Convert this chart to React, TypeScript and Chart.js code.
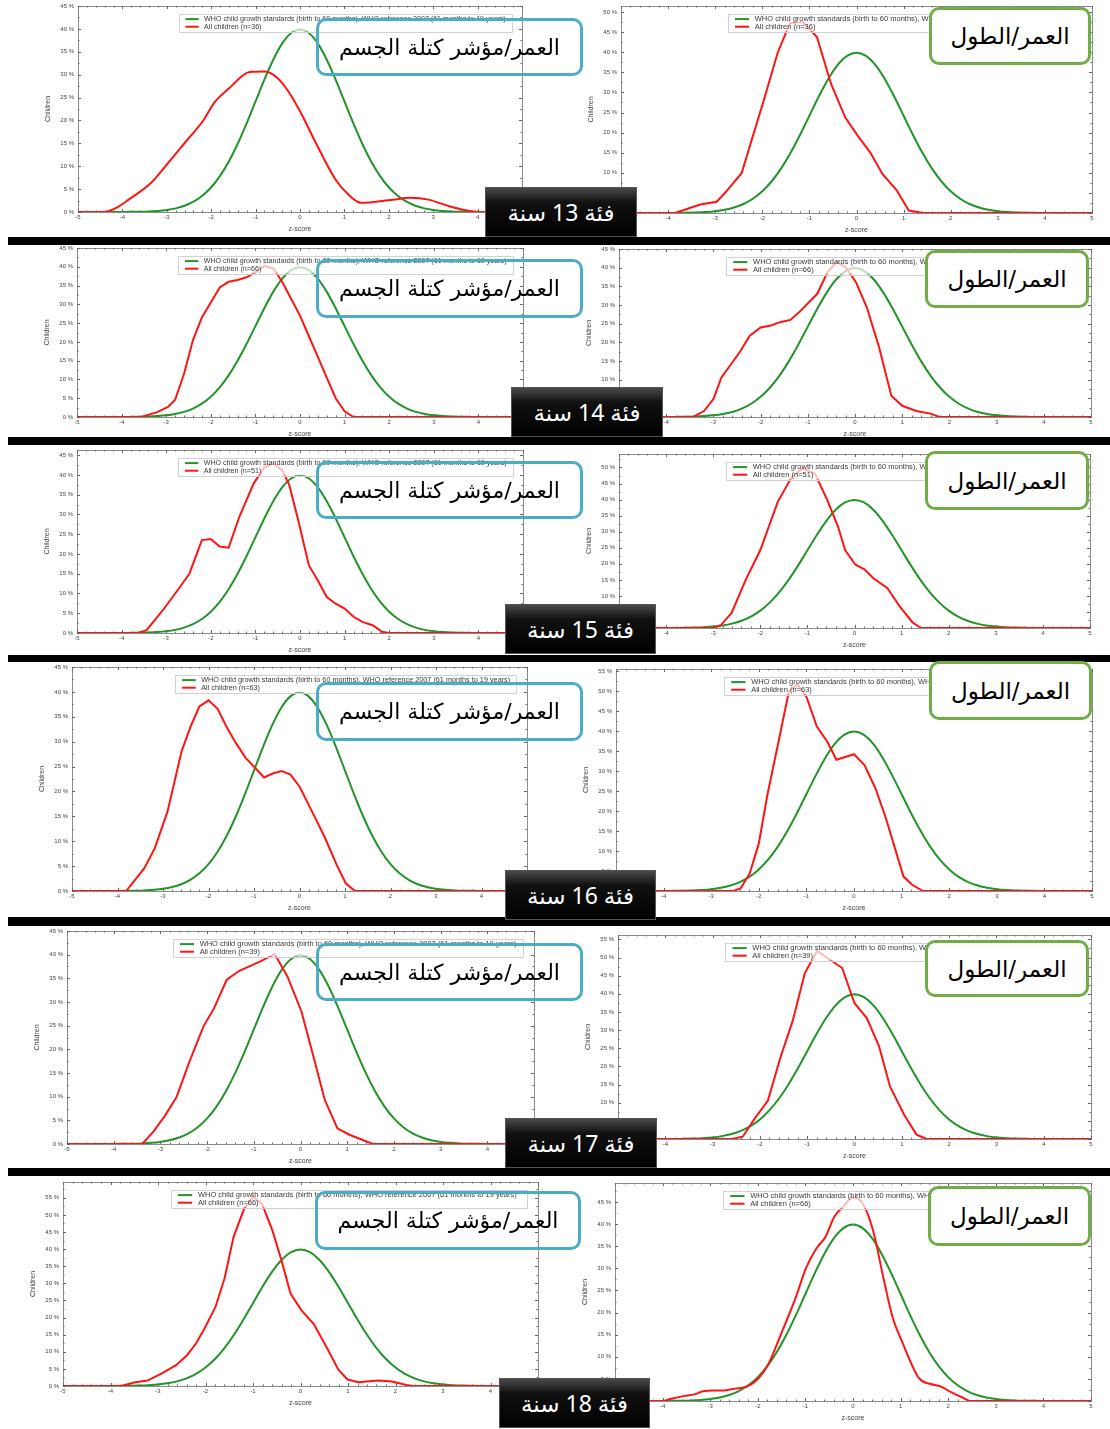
import React, { useEffect, useRef } from "react";
import { Chart, registerables } from "chart.js";

Chart.register(...registerables);

// ---------------- DATA ----------------
const Z_GRID = [
  -5, -4.8, -4.6, -4.4, -4.2, -4, -3.8, -3.6, -3.4, -3.2, -3, -2.8, -2.6, -2.4, -2.2, -2, -1.8, -1.6, -1.4, -1.2, -1,
  -0.8, -0.6, -0.4, -0.2, 0, 0.2, 0.4, 0.6, 0.8, 1, 1.2, 1.4, 1.6, 1.8, 2, 2.2, 2.4, 2.6, 2.8, 3, 3.2, 3.4, 3.6, 3.8,
  4, 4.2, 4.4, 4.6, 4.8, 5,
];
const WHO_CURVE = [
  0, 0, 0, 0, 0, 0.01, 0.03, 0.06, 0.12, 0.24, 0.44, 0.79, 1.36, 2.24, 3.55, 5.4, 7.9, 11.09, 14.97, 19.42, 24.2,
  28.97, 33.32, 36.83, 39.1, 39.89, 39.1, 36.83, 33.32, 28.97, 24.2, 19.42, 14.97, 11.09, 7.9, 5.4, 3.55, 2.24, 1.36,
  0.79, 0.44, 0.24, 0.12, 0.06, 0.03, 0.01, 0, 0, 0, 0, 0,
];

const BMI_13: [number, number][] = [
  [-5, 0], [-4.42, 0], [-4.14, 0.9], [-3.86, 2.7], [-3.34, 6.5], [-2.97, 10.7], [-2.57, 15.4], [-2.17, 20.1],
  [-1.93, 23.9], [-1.61, 26.9], [-1.13, 30.6], [-0.8, 30.7], [-0.52, 29.4], [-0.28, 26.6], [0, 22], [0.32, 15.8],
  [0.8, 7.1], [1.09, 3.8], [1.37, 2.0], [2.09, 2.7], [2.49, 3.1], [2.89, 2.7], [3.38, 1.2], [3.86, 0.15], [4.02, 0], [5, 0],
];
const HFA_13: [number, number][] = [
  [-5, 0], [-3.85, 0], [-3.32, 2.1], [-2.97, 2.8], [-2.8, 4.9], [-2.44, 9.9], [-2.23, 18], [-1.97, 28], [-1.67, 40],
  [-1.41, 47.3], [-1.14, 47.5], [-0.84, 43.8], [-0.54, 32.1], [-0.24, 23.8], [0.02, 19.3], [0.29, 15.1], [0.55, 9.7],
  [0.85, 5.7], [1.11, 0.6], [1.41, 0], [5, 0],
];
const BMI_14: [number, number][] = [
  [-5, 0], [-3.56, 0], [-3.2, 1.3], [-2.96, 2.7], [-2.8, 4.6], [-2.6, 11.5], [-2.4, 20.5], [-2.2, 26.5], [-2.0, 30.5],
  [-1.8, 34.5], [-1.6, 36], [-1.4, 36.5], [-1.2, 37.2], [-1.0, 38.5], [-0.8, 40.2], [-0.6, 39.6], [-0.4, 36],
  [-0.2, 31.5], [0, 27], [0.2, 21.5], [0.4, 16], [0.6, 10.5], [0.8, 5], [1.0, 1.5], [1.2, 0], [5, 0],
];
const HFA_14: [number, number][] = [
  [-5, 0], [-3.43, 0], [-3.2, 1.6], [-3.0, 4.8], [-2.83, 10.6], [-2.6, 14.6], [-2.42, 17.8], [-2.23, 21.8],
  [-2.0, 24.0], [-1.78, 24.5], [-1.59, 25.4], [-1.37, 26.0], [-1.18, 28.1], [-0.8, 33.0], [-0.58, 38.8],
  [-0.39, 41.5], [-0.2, 40.2], [0.02, 36.1], [0.25, 29.4], [0.51, 18.7], [0.77, 5.7], [1.0, 3.0], [1.3, 1.6],
  [1.6, 0.9], [1.79, 0], [5, 0],
];
const BMI_15: [number, number][] = [
  [-5, 0], [-3.64, 0], [-3.44, 0.7], [-3.08, 5.7], [-2.72, 11.2], [-2.48, 15.0], [-2.2, 23.5], [-2.0, 23.8],
  [-1.8, 21.9], [-1.6, 21.6], [-1.36, 29.4], [-1.04, 37.8], [-0.8, 41.9], [-0.6, 42.9], [-0.4, 41.2], [-0.24, 37.4],
  [-0.04, 28.5], [0.2, 17.1], [0.4, 13.3], [0.6, 9.1], [0.8, 7.4], [1.0, 6.2], [1.2, 4.1], [1.4, 2.8], [1.64, 1.9],
  [1.84, 0.3], [2.0, 0], [5, 0],
];
const HFA_15: [number, number][] = [
  [-5, 0], [-2.98, 0], [-2.83, 1.0], [-2.61, 4.7], [-2.31, 15.0], [-2.0, 24.3], [-1.63, 39.3], [-1.33, 47.1],
  [-1.11, 49.7], [-0.84, 48.1], [-0.58, 39.9], [-0.35, 31.6], [-0.2, 24.3], [0.02, 19.7], [0.21, 18.3], [0.4, 15.5],
  [0.7, 12.4], [0.96, 6.7], [1.23, 1.8], [1.41, 0], [5, 0],
];
const BMI_16: [number, number][] = [
  [-5, 0], [-3.81, 0], [-3.41, 4.6], [-3.18, 8.6], [-2.9, 16.0], [-2.59, 28.1], [-2.39, 33.1], [-2.2, 37.1],
  [-2.0, 38.3], [-1.8, 36.6], [-1.61, 33.1], [-1.41, 29.9], [-1.18, 26.7], [-0.98, 24.8], [-0.78, 22.8],
  [-0.59, 23.6], [-0.39, 24.1], [-0.2, 23.4], [0, 21.0], [0.24, 16.6], [0.55, 10.9], [0.82, 5.2], [1.02, 1.5],
  [1.22, 0], [5, 0],
];
const HFA_16: [number, number][] = [
  [-5, 0], [-2.53, 0], [-2.38, 0.7], [-2.19, 4.4], [-2.0, 11.9], [-1.82, 24.0], [-1.6, 36.5], [-1.37, 49.8],
  [-1.19, 51.7], [-1.0, 48.6], [-0.78, 41.1], [-0.56, 37.3], [-0.37, 32.8], [0, 34.2], [0.22, 31.5], [0.45, 25.7],
  [0.67, 18.2], [0.85, 11.1], [1.04, 3.6], [1.23, 1.5], [1.45, 0], [5, 0],
];
const BMI_17: [number, number][] = [
  [-5, 0], [-3.39, 0], [-3.15, 2.6], [-2.9, 6.0], [-2.65, 10.0], [-2.39, 17.1], [-2.08, 24.8], [-1.85, 28.7],
  [-1.58, 34.7], [-1.31, 36.6], [-0.86, 38.6], [-0.55, 40.1], [-0.28, 35.4], [0.02, 28.0], [0.25, 19.5],
  [0.52, 9.3], [0.79, 3.3], [1.06, 1.9], [1.55, 0], [5, 0],
];
const HFA_17: [number, number][] = [
  [-5, 0], [-2.58, 0], [-2.36, 0.7], [-2.1, 5.8], [-1.83, 10.6], [-1.57, 22.3], [-1.31, 32.4], [-1.05, 45.7],
  [-0.79, 51.8], [-0.26, 47.1], [0, 37.4], [0.26, 33.3], [0.52, 25.5], [0.75, 14.5], [1.05, 6.7], [1.31, 1.2],
  [1.53, 0], [5, 0],
];
const BMI_18: [number, number][] = [
  [-5, 0], [-3.78, 0], [-3.48, 1.1], [-3.22, 1.6], [-2.92, 3.7], [-2.62, 6.1], [-2.39, 9.0], [-2.2, 12.4],
  [-2.02, 16.8], [-1.79, 23.1], [-1.6, 31.4], [-1.41, 43.5], [-1.19, 51.7], [-1.0, 55.3], [-0.81, 53.2],
  [-0.59, 45.4], [-0.4, 36.7], [-0.21, 27.0], [0.02, 22.1], [0.28, 18.1], [0.58, 10.5], [0.8, 4.7], [0.99, 1.9],
  [1.22, 1.1], [1.63, 1.6], [1.93, 1.3], [2.23, 0.3], [2.38, 0], [5, 0],
];
const HFA_18: [number, number][] = [
  [-5, 0], [-4.0, 0], [-3.82, 0.5], [-3.56, 1.1], [-3.33, 1.5], [-3.15, 2.2], [-2.96, 2.4], [-2.7, 2.4],
  [-2.48, 2.8], [-2.22, 3.3], [-1.99, 5.1], [-1.77, 8.5], [-1.51, 15.2], [-1.21, 23.2], [-0.99, 30.0],
  [-0.77, 34.5], [-0.58, 37.1], [-0.39, 41.7], [-0.21, 43.9], [0, 46.0], [0.2, 44.7], [0.42, 38.6], [0.65, 27.3],
  [0.83, 19.0], [1.02, 13.7], [1.39, 5.1], [1.61, 3.9], [1.84, 3.3], [2.06, 2.0], [2.28, 0.9], [2.47, 0], [5, 0],
];

const AGES = [13, 14, 15, 16, 17, 18];
const N_CHILDREN = [36, 66, 51, 63, 39, 66];
const BMI_SERIES = [BMI_13, BMI_14, BMI_15, BMI_16, BMI_17, BMI_18];
const HFA_SERIES = [HFA_13, HFA_14, HFA_15, HFA_16, HFA_17, HFA_18];
const Y_MAX_BMI = [45, 45, 46.3, 45, 45, 59.6];
const Y_MAX_HFA = [51.5, 45, 54.2, 55.5, 56.2, 49.3];
const X_MIN = -5;
const X_MAX = 5;

const LEGEND_WHO = "WHO child growth standards (birth to 60 months), WHO reference 2007 (61 months to 19 years)";
const LEGEND_ALL = "All children";
const X_TITLE = "z-score";
const Y_TITLE = "Children";
const PANEL_BMI = "العمر/مؤشر كتلة الجسم";
const PANEL_HFA = "العمر/الطول";
const WORD_GROUP = "فئة";
const WORD_YEAR = "سنة";

// ---------------- LAYOUT / STYLE ----------------
const GREEN = "#23932a";
const RED = "#ff1414";
const FONT = "'Liberation Sans', Arial, sans-serif";

// plot boxes [left, top, right, bottom(0%)]
const PLOTS_BMI = [
  [78, 6, 522, 212],
  [77, 248, 523, 417],
  [77, 450, 523, 633],
  [72, 667, 527, 891],
  [67, 931, 534, 1144],
  [63, 1182, 538, 1386],
];
const PLOTS_HFA = [
  [621, 6, 1092, 213],
  [619, 249, 1091, 417],
  [619, 454, 1090, 628],
  [616, 669, 1092, 891],
  [618, 935, 1091, 1139],
  [615, 1183, 1091, 1401],
];
const BLUE_BOXES = [
  [316, 18, 267, 58],
  [316, 259, 267, 59],
  [316, 461, 267, 58],
  [316, 682, 267, 59],
  [316, 943, 267, 58],
  [315, 1191, 266, 59],
];
const GREEN_BOXES = [
  [929, 7, 162, 58],
  [925, 250, 164, 58],
  [925, 451, 164, 59],
  [929, 661, 163, 59],
  [925, 940, 164, 57],
  [928, 1186, 163, 60],
];
const AGE_BOXES = [
  [485, 187, 152, 50],
  [511, 387, 152, 50],
  [505, 604, 151, 50],
  [505, 870, 151, 50],
  [505, 1118, 152, 50],
  [499, 1378, 151, 50],
];
const SEPARATORS = [
  [237, 245],
  [437, 445],
  [655, 662],
  [917, 926],
  [1168, 1176],
];

const PAD_L = 40;
const PAD_T = 8;
const PAD_R = 8;
const PAD_B = 26;

const framePlugin = {
  id: "zFrame",
  beforeDatasetsDraw(chart: any) {
    const { ctx, chartArea: a, scales } = chart;
    const xs = scales.x;
    const ys = scales.y;
    ctx.save();
    ctx.strokeStyle = "#8c8c8c";
    ctx.lineWidth = 1;
    ctx.strokeRect(Math.round(a.left) + 0.5, Math.round(a.top) + 0.5, Math.round(a.right - a.left), Math.round(a.bottom - a.top));
    ctx.strokeStyle = "#666";
    ctx.beginPath();
    for (let k = X_MIN * 10; k <= X_MAX * 10; k += 2) {
      const px = Math.round(xs.getPixelForValue(k / 10)) + 0.5;
      const len = k % 10 === 0 ? 3 : 1.5;
      ctx.moveTo(px, a.bottom);
      ctx.lineTo(px, a.bottom - len);
      ctx.moveTo(px, a.top);
      ctx.lineTo(px, a.top + len);
    }
    for (let k = 0; k <= ys.max * 2; k += 5) {
      const py = Math.round(ys.getPixelForValue(k / 2)) + 0.5;
      const len = k % 10 === 0 ? 3 : 1.5;
      ctx.moveTo(a.left, py);
      ctx.lineTo(a.left + len, py);
      ctx.moveTo(a.right, py);
      ctx.lineTo(a.right - len, py);
    }
    ctx.stroke();
    ctx.restore();
  },
};

const legendPlugin = {
  id: "zLegend",
  afterDatasetsDraw(chart: any) {
    const { ctx, chartArea: a } = chart;
    const W = a.right - a.left;
    const lx = a.left + 0.227 * W;
    const ly = a.top + 7.5;
    const lw = 0.75 * W;
    const lh = 18;
    ctx.save();
    ctx.fillStyle = "rgba(255,255,255,0.7)";
    ctx.fillRect(lx, ly, lw, lh);
    ctx.strokeStyle = "#d2d2d2";
    ctx.lineWidth = 1;
    ctx.strokeRect(Math.round(lx) + 0.5, Math.round(ly) + 0.5, Math.round(lw), Math.round(lh));
    const ds = chart.data.datasets;
    ctx.font = `10px ${FONT}`;
    const m = ctx.measureText(ds[0].label).width;
    const fs = Math.min((10 * 0.68 * W) / m, 7.5);
    ctx.font = `${fs}px ${FONT}`;
    ctx.textBaseline = "middle";
    ds.forEach((d: any, i: number) => {
      const cy = ly + 5.6 + i * 7.6;
      ctx.strokeStyle = d.borderColor;
      ctx.lineWidth = 2;
      ctx.beginPath();
      ctx.moveTo(lx + 0.015 * W, cy);
      ctx.lineTo(lx + 0.045 * W, cy);
      ctx.stroke();
      ctx.fillStyle = "#3a3a3a";
      ctx.fillText(d.label, lx + 0.057 * W, cy);
    });
    ctx.restore();
  },
};

type ZProps = { plot: number[]; red: [number, number][]; yMax: number; n: number; smooth: boolean };

function ZChart({ plot, red, yMax, n, smooth }: ZProps) {
  const ref = useRef<HTMLCanvasElement>(null);
  const [L, T, R, B] = plot;
  const w = R - L + PAD_L + PAD_R;
  const h = B - T + PAD_T + PAD_B;

  useEffect(() => {
    if (!ref.current) return;
    const tickFont = { size: 6, family: FONT };
    const chart = new Chart(ref.current, {
      type: "line",
      data: {
        datasets: [
          {
            label: LEGEND_WHO,
            data: Z_GRID.map((x, i) => ({ x, y: WHO_CURVE[i] })),
            borderColor: GREEN,
            borderWidth: 2,
            pointRadius: 0,
            cubicInterpolationMode: "monotone",
            order: 1,
          },
          {
            label: `${LEGEND_ALL} (n=${n})`,
            data: red.map(([x, y]) => ({ x, y })),
            borderColor: RED,
            borderWidth: 2,
            pointRadius: 0,
            cubicInterpolationMode: smooth ? "monotone" : "default",
            tension: 0,
            order: 0,
          },
        ],
      },
      options: {
        responsive: false,
        animation: false,
        events: [],
        layout: { padding: { left: 4, top: PAD_T, right: PAD_R, bottom: 0 } },
        plugins: { legend: { display: false }, tooltip: { enabled: false } },
        scales: {
          x: {
            type: "linear",
            min: X_MIN,
            max: X_MAX,
            ticks: { stepSize: 1, font: tickFont, color: "#444", padding: 2, maxRotation: 0, autoSkip: false },
            grid: { display: false, drawTicks: false },
            border: { display: false },
            title: { display: true, text: X_TITLE, font: { size: 7, family: FONT }, color: "#444", padding: { top: 0, bottom: 5 } },
            afterFit: (s: any) => {
              s.height = PAD_B;
            },
          },
          y: {
            type: "linear",
            min: 0,
            max: yMax,
            ticks: {
              stepSize: 5,
              includeBounds: false,
              font: tickFont,
              color: "#444",
              padding: 4,
              callback: (v: any) => `${v} %`,
            },
            grid: { display: false, drawTicks: false },
            border: { display: false },
            title: { display: true, text: Y_TITLE, font: { size: 7, family: FONT }, color: "#444", padding: { top: 2, bottom: 2 } },
            afterFit: (s: any) => {
              s.width = PAD_L - 4;
            },
          },
        },
      } as any,
      plugins: [framePlugin, legendPlugin],
    });
    return () => chart.destroy();
  }, []);

  return (
    <canvas
      ref={ref}
      width={w}
      height={h}
      style={{ position: "absolute", left: L - PAD_L, top: T - PAD_T, width: w, height: h }}
    />
  );
}

export default function App() {
  return (
    <div style={{ position: "absolute", left: 0, top: 0, width: 1110, height: 1429, background: "#fff", overflow: "hidden" }}>
      {AGES.map((age, r) => (
        <React.Fragment key={age}>
          <ZChart plot={PLOTS_BMI[r]} red={BMI_SERIES[r]} yMax={Y_MAX_BMI[r]} n={N_CHILDREN[r]} smooth={r === 0} />
          <ZChart plot={PLOTS_HFA[r]} red={HFA_SERIES[r]} yMax={Y_MAX_HFA[r]} n={N_CHILDREN[r]} smooth={r === 5} />
        </React.Fragment>
      ))}
      {SEPARATORS.map(([y0, y1], i) => (
        <div key={"s" + i} style={{ position: "absolute", left: 8, top: y0, width: 1102, height: y1 - y0, background: "#000" }} />
      ))}
      {BLUE_BOXES.map(([x, y, w, h], i) => (
        <div
          key={"b" + i}
          style={{
            position: "absolute", left: x, top: y, width: w, height: h, boxSizing: "border-box",
            border: "3px solid #4bacc6", borderRadius: 10, display: "flex", alignItems: "center", justifyContent: "center",
            fontFamily: "'DejaVu Sans', sans-serif", fontSize: 22, color: "#000", direction: "rtl", whiteSpace: "nowrap",
          }}
        >
          {PANEL_BMI}
        </div>
      ))}
      {GREEN_BOXES.map(([x, y, w, h], i) => (
        <div
          key={"g" + i}
          style={{
            position: "absolute", left: x, top: y, width: w, height: h, boxSizing: "border-box",
            border: "3px solid #70ad47", borderRadius: 10, background: "#fff", display: "flex", alignItems: "center",
            justifyContent: "center", fontFamily: "'DejaVu Sans', sans-serif", fontSize: 23, color: "#000",
            direction: "rtl", whiteSpace: "nowrap",
          }}
        >
          {PANEL_HFA}
        </div>
      ))}
      {AGE_BOXES.map(([x, y, w, h], i) => (
        <div
          key={"a" + i}
          style={{
            position: "absolute", left: x, top: y, width: w, height: h, boxSizing: "border-box",
            background: "linear-gradient(to bottom, #4a4a4a 0%, #111 30%, #000 100%)", border: "1px solid #555",
            display: "flex", alignItems: "center", justifyContent: "center", color: "#fff",
            fontFamily: "'Noto Sans', 'DejaVu Sans', sans-serif", fontSize: 23, direction: "rtl", whiteSpace: "nowrap",
          }}
        >
          {`${WORD_GROUP} ${AGES[i]} ${WORD_YEAR}`}
        </div>
      ))}
    </div>
  );
}
